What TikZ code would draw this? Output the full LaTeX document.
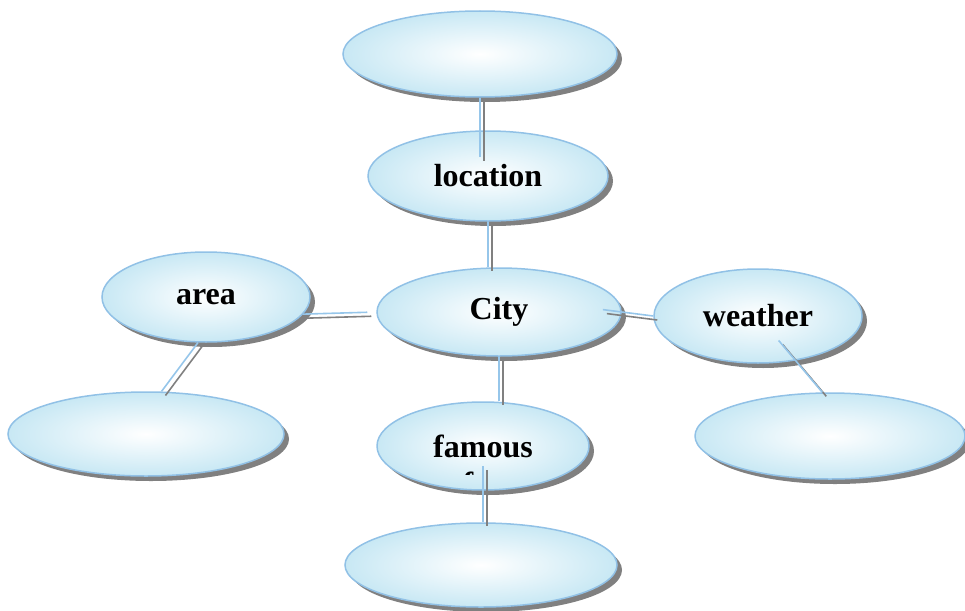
\documentclass[tikz,border=0pt]{standalone}
\usepackage{fontspec}
\setmainfont{Liberation Serif}
\usetikzlibrary{shadows,shapes.geometric}
\definecolor{cellblue}{RGB}{200,232,244}
\definecolor{cellborder}{RGB}{145,193,230}
\definecolor{linkblue}{RGB}{150,198,234}
\definecolor{shadowgray}{RGB}{128,128,128}
\begin{document}
\begin{tikzpicture}[x=1pt, y=-1pt,
  cell/.style={ellipse, draw=cellborder, line width=1.5pt,
    shading=radial, inner color=white, outer color=cellblue,
    drop shadow={shadow xshift=5pt, shadow yshift=-5pt, fill=shadowgray, opacity=1},
    font=\fontsize{32}{37}\selectfont\bfseries, inner sep=0pt},
  link/.style={draw=linkblue, line width=1.6pt,
    preaction={draw=shadowgray, line width=1.6pt, transform canvas={shift={(4pt,-4pt)}}}}]
  \useasboundingbox (0,0) rectangle (965,610);

  \node[cell, minimum width=274pt, minimum height=86pt] (top) at (480,54) {};
  \node[cell, minimum width=240pt, minimum height=90pt] (location) at (488,176) {location};
  \node[cell, minimum width=244pt, minimum height=88pt] (city) at (499,312) {City};
  \node[cell, minimum width=208pt, minimum height=90pt] (area) at (206,297) {area};
  \node[cell, minimum width=276pt, minimum height=84pt] (areabox) at (146,434) {};
  \node[cell, minimum width=208pt, minimum height=94pt] (weather) at (758,316) {weather};
  \node[cell, minimum width=270pt, minimum height=86pt] (weatherbox) at (830,436) {};
  \node[cell, minimum width=212pt, minimum height=88pt] (famous) at (483,446) {famous};
  \node[cell, minimum width=272pt, minimum height=84pt] (famousbox) at (481,565) {};

  \begin{scope}
    \clip (377,400) rectangle (590,474);
    \node[anchor=base, inner sep=0pt, font=\fontsize{32}{37}\selectfont\bfseries]
      (famousfor) at ([yshift=-37pt]famous.base) {for};
  \end{scope}

  \draw[link, shorten >=19pt] (top.south) -- (top.south |- location.center);
  \draw[link] (location.south) -- (location.south |- city.north);
  \draw[link] (city.south) -- (city.south |- famous.north);
  \draw[link, shorten <=20pt] (famous.center) -- (famous.center |- famousbox.north);
  \draw[link, shorten >=9pt] (area.-10) -- (city.west);
  \draw[link, shorten <=-19pt] (city.east) -- (weather.west);
  \draw[link] (area.-100) -- (areabox.70);
  \draw[link, shorten <=32pt] (weather.center) -- (weatherbox.100);
\end{tikzpicture}
\end{document}
